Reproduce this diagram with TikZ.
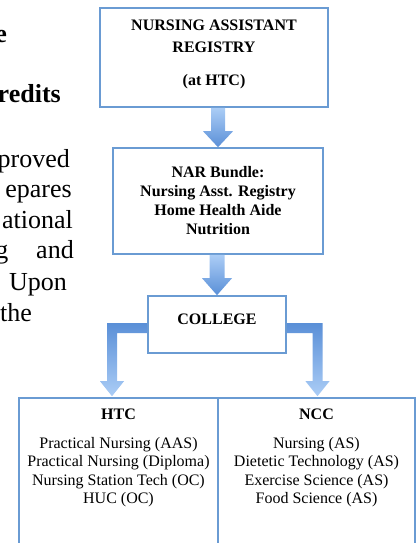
\documentclass[tikz,border=0pt]{standalone}
\usepackage{fontspec}
\setmainfont{Liberation Serif}
\usetikzlibrary{positioning,calc}
\definecolor{boxblue}{HTML}{6A9BD3}
\definecolor{arrowlight}{HTML}{ABCDF6}
\definecolor{arrowdark}{HTML}{5A8FD7}
\begin{document}
\begin{tikzpicture}[x=1pt, y=-1pt, line join=miter,
    box/.style={draw=boxblue, line width=1.6pt, inner sep=0pt},
    boxhead/.style={font=\fontsize{16}{22}\selectfont\bfseries, align=center, inner sep=0pt},
    boxlist/.style={font=\fontsize{16}{18.5}\selectfont, align=center, inner sep=0pt},
    bodytxt/.style={font=\fontsize{26}{30}\selectfont, anchor=base east, inner sep=0pt},
    downfill/.style={top color=arrowlight, bottom color=arrowdark},
    elbowfill/.style={top color=arrowdark, bottom color=arrowlight}]
  \useasboundingbox (0,0) rectangle (419,543);
  \clip (0,0) rectangle (419,543);
  % page text behind the chart
  \node[bodytxt, font=\fontsize{26}{30}\selectfont\bfseries] (hde) at (7,42) {e};
  \node[bodytxt, font=\fontsize{26}{30}\selectfont\bfseries] (hdcredits) at (61,102) {redits};
  \node[bodytxt] (lproved) at (70,167) {proved};
  \node[bodytxt] (lprepares) at (72,197) {epares};
  \node[bodytxt] (lational) at (73,228) {ational};
  \node[bodytxt] (land) at (74,258) {g\hspace{28pt}and};
  \node[bodytxt] (lupon) at (67,290) {Upon};
  \node[bodytxt, anchor=base west] (lthe) at (0,321) {the};
  % boxes
  \node[box, minimum width=228, minimum height=99] (reg) at (214,57.5) {};
  \node[box, minimum width=210, minimum height=106] (nar) at (218,201) {};
  \node[box, minimum width=138, minimum height=57] (col) at (217,324.5) {};
  \node[box, minimum width=199, minimum height=172] (htc) at (118.5,484) {};
  \node[box, minimum width=197, minimum height=172] (ncc) at (316.5,484) {};
  \node[boxhead, below=12.7pt of reg.north] (regtxt) {NURSING ASSISTANT\\REGISTRY\\[11pt](at HTC)};
  \node[boxhead, font=\fontsize{16}{19}\selectfont\bfseries, below=19.2pt of nar.north] (nartxt) {NAR Bundle:\\Nursing Asst. Registry\\Home Health Aide\\Nutrition};
  \node[boxhead, below=18.7pt of col.north] (coltxt) {COLLEGE};
  \node[boxlist, below=11.7pt of htc.north] (htctxt) {\textbf{HTC}\\[10pt]Practical Nursing (AAS)\\Practical Nursing (Diploma)\\Nursing Station Tech (OC)\\HUC (OC)};
  \node[boxlist, below=11.7pt of ncc.north] (ncctxt) {\textbf{NCC}\\[10pt]Nursing (AS)\\Dietetic Technology (AS)\\Exercise Science (AS)\\Food Science (AS)};
  % block arrows
  \shade[downfill] ($(nar.north |- reg.south)+(-7,0)$) -- ($(nar.north)+(-7,-16)$) -- ++(-8,0) -- (nar.north) -- ++(15,-16) -- ++(-8,0) -- ($(nar.north |- reg.south)+(7,0)$) -- cycle;
  \shade[downfill] ($(col.north |- nar.south)+(-7.5,0)$) -- ($(col.north)+(-7.5,-17)$) -- ++(-7.5,0) -- (col.north) -- ++(15,-17) -- ++(-7.5,0) -- ($(col.north |- nar.south)+(7.5,0)$) -- cycle;
  \coordinate (ltip) at ($(htc.north)+(-6.5,-1)$);
  \coordinate (rtip) at ($(ncc.north)+(1,-1)$);
  \shade[elbowfill] ($(col.west)+(0,-1.5)$) -| ($(ltip)+(-5,-15)$) -- ++(-7,0) -- (ltip) -- ++(12,-15) -- ++(-7,0) |- ($(col.west)+(0,8.5)$) -- cycle;
  \shade[elbowfill] ($(col.east)+(0,-1.5)$) -| ($(rtip)+(5,-15)$) -- ++(7,0) -- (rtip) -- ++(-12,-15) -- ++(7,0) |- ($(col.east)+(0,8.5)$) -- cycle;
\end{tikzpicture}
\end{document}
